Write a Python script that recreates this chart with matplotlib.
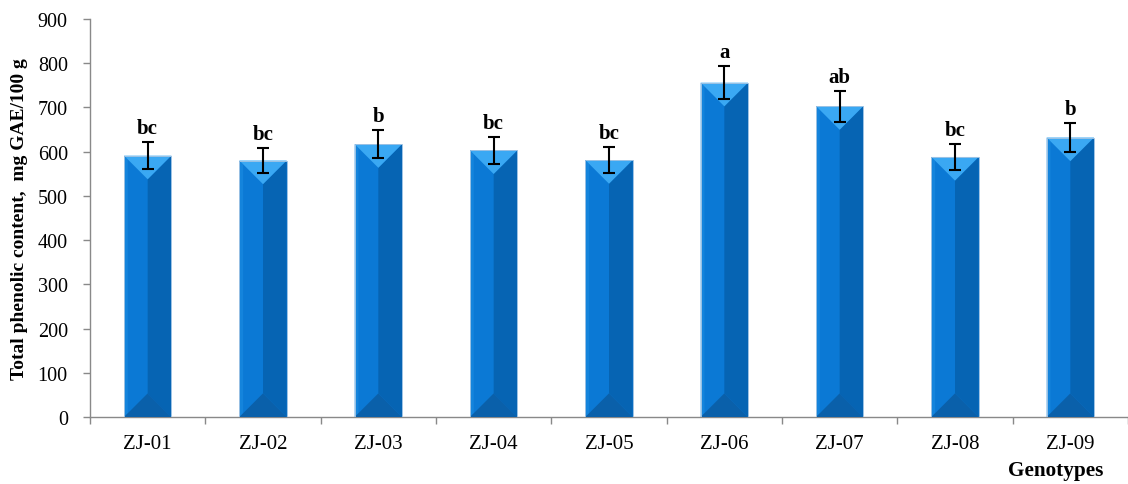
import numpy as np
import matplotlib
matplotlib.use("Agg")
import matplotlib.pyplot as plt
from matplotlib.patches import Polygon
from matplotlib.ticker import MultipleLocator, FixedLocator

plt.rcParams['font.family'] = ['Liberation Serif', 'DejaVu Serif']

genotypes = ["ZJ-01", "ZJ-02", "ZJ-03", "ZJ-04", "ZJ-05", "ZJ-06", "ZJ-07", "ZJ-08", "ZJ-09"]
tpc = [591, 580, 617, 603, 581, 756, 703, 588, 632]
tpc_sd = [30, 28, 31, 30, 29, 38, 35, 30, 32]
letters = ["bc", "bc", "b", "bc", "bc", "a", "ab", "bc", "b"]

W, H = 1128, 485
fig = plt.figure(figsize=(W / 100, H / 100), dpi=100)
ax = fig.add_axes([90 / W, (H - 418) / H, (W - 90) / W, (418 - 20) / H])

x = np.arange(len(genotypes))
bw = 0.41
ax.set_xlim(-0.5, len(genotypes) - 0.5)
ax.set_ylim(0, 900)

# base bars (left facet colour), bevel facets are drawn on top
ax.bar(x, tpc, width=bw, color="#0b79d5", edgecolor="none", zorder=2)

# bevel depth: half the bar width, expressed in y data units
px_x = ax.get_position().width * W / 9.0
px_y = ax.get_position().height * H / 900.0
d = (bw / 2) * px_x / px_y

for xi, v in zip(x, tpc):
    x0, x1 = xi - bw / 2, xi + bw / 2
    faces = [
        ([(x0, 0), (x0 + bw * 0.08, d * 0.16), (x0 + bw * 0.08, v - d * 0.16), (x0, v)], "#1484dc"),
        ([(x1, 0), (xi, d), (xi, v - d), (x1, v)], "#0664b3"),
        ([(x0, 0), (x1, 0), (xi, d)], "#0a60aa"),
        ([(x0, v), (x1, v), (xi, v - d)], "#3aa8f3"),
    ]
    for pts, c in faces:
        ax.add_patch(Polygon(pts, closed=True, facecolor=c, edgecolor="none",
                             zorder=3))
    # thin outline on top of the facets
    ax.add_patch(Polygon([(x0, 0), (x0, v), (x1, v), (x1, 0)], closed=True,
                         facecolor="none", edgecolor="#9cc2e4", linewidth=0.7,
                         zorder=3))

ax.errorbar(x, tpc, yerr=tpc_sd, fmt="none", ecolor="black", elinewidth=1.5,
            capsize=4.5, capthick=1.5, zorder=4)

for xi, v, s, lab in zip(x, tpc, tpc_sd, letters):
    ax.annotate(lab, (xi, v + s), xytext=(0, 6.5), textcoords="offset points",
                ha="center", va="baseline", fontsize=15, fontweight="bold")

for side in ["top", "right"]:
    ax.spines[side].set_visible(False)
for side in ["left", "bottom"]:
    ax.spines[side].set_color("#898989")
    ax.spines[side].set_linewidth(1.0)

ax.yaxis.set_major_locator(MultipleLocator(100))
ax.tick_params(axis="y", direction="out", length=5, width=1.0, color="#898989",
               labelsize=14.5, pad=11)
ax.set_xticks(x)
ax.set_xticklabels(genotypes)
ax.xaxis.set_minor_locator(FixedLocator(np.arange(-0.5, len(genotypes), 1.0)))
ax.tick_params(axis="x", which="major", length=0, labelsize=15, pad=12)
ax.tick_params(axis="x", which="minor", direction="out", length=5, width=1.0,
               color="#898989")

ax.set_ylabel("Total phenolic content,  mg GAE/100 g", fontsize=14,
              fontweight="bold", labelpad=7)
fig.text(1056 / W, 1 - 476 / H, "Genotypes", ha="center", va="baseline",
         fontsize=15.3, fontweight="bold")

fig.savefig("out.png", dpi=100)
